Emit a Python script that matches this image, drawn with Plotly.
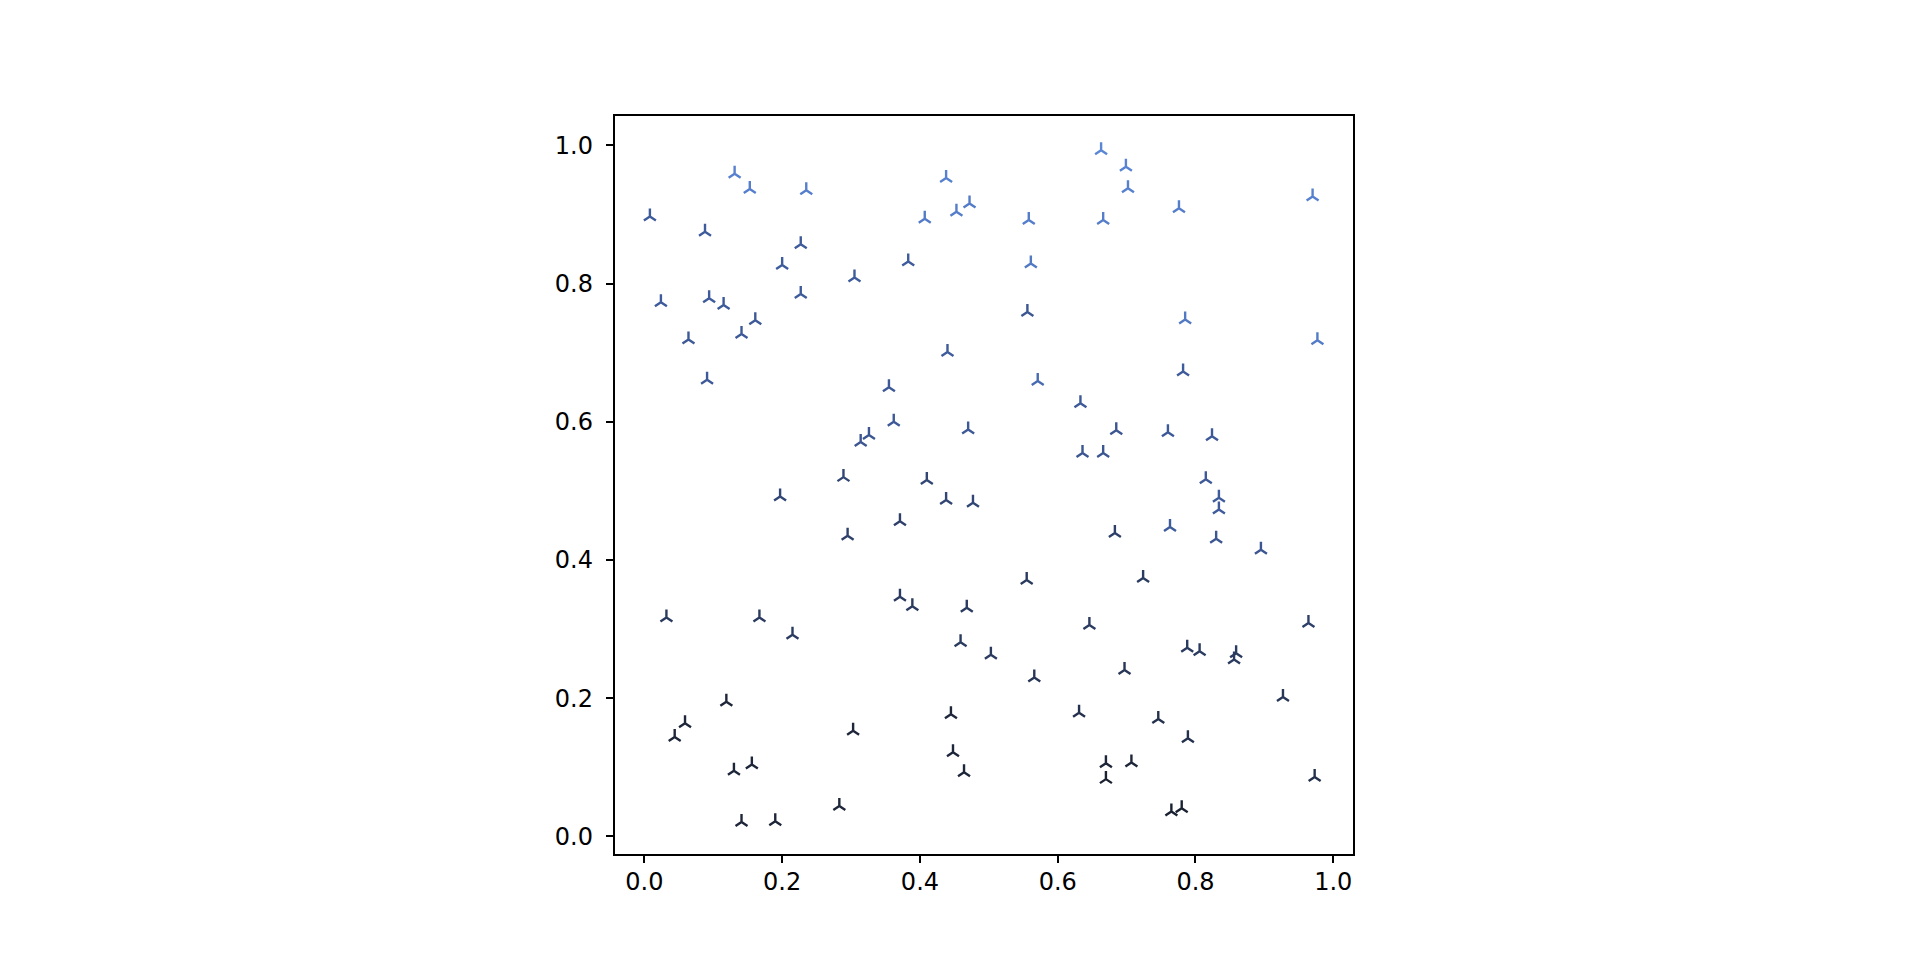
import plotly.graph_objects as go

# data values
x_vals = [
    0.131, 0.153, 0.235, 0.008, 0.088, 0.227, 0.200, 0.305, 0.383, 0.438,
    0.453, 0.472, 0.407, 0.024, 0.094, 0.115, 0.227, 0.064, 0.141, 0.161,
    0.091, 0.440, 0.355, 0.362, 0.314, 0.326, 0.470, 0.289, 0.410, 0.197,
    0.663, 0.699, 0.702, 0.558, 0.666, 0.776, 0.970, 0.561, 0.556, 0.785,
    0.977, 0.571, 0.782, 0.633, 0.685, 0.760, 0.824, 0.636, 0.666, 0.815,
    0.438, 0.477, 0.371, 0.295, 0.032, 0.167, 0.215, 0.371, 0.389, 0.468,
    0.459, 0.503, 0.119, 0.059, 0.044, 0.303, 0.445, 0.448, 0.464, 0.130,
    0.156, 0.283, 0.141, 0.190,
    0.834, 0.834, 0.763, 0.683, 0.830, 0.895, 0.555, 0.724, 0.646, 0.964,
    0.788, 0.806, 0.859, 0.856, 0.566, 0.697, 0.927, 0.631, 0.746, 0.789,
    0.670, 0.707, 0.670, 0.973, 0.765, 0.780,
]
y_vals = [
    0.959, 0.937, 0.935, 0.897, 0.875, 0.857, 0.827, 0.809, 0.832, 0.953,
    0.904, 0.916, 0.894, 0.773, 0.779, 0.769, 0.785, 0.719, 0.727, 0.747,
    0.661, 0.701, 0.650, 0.600, 0.571, 0.581, 0.589, 0.520, 0.516, 0.492,
    0.993, 0.969, 0.938, 0.892, 0.892, 0.909, 0.926, 0.829, 0.759, 0.748,
    0.718, 0.659, 0.673, 0.627, 0.588, 0.585, 0.579, 0.555, 0.555, 0.517,
    0.487, 0.483, 0.456, 0.435, 0.317, 0.317, 0.292, 0.347, 0.333, 0.331,
    0.281, 0.263, 0.195, 0.164, 0.144, 0.153, 0.177, 0.122, 0.093, 0.095,
    0.104, 0.044, 0.021, 0.022,
    0.490, 0.473, 0.448, 0.439, 0.431, 0.415, 0.371, 0.374, 0.306, 0.309,
    0.273, 0.268, 0.265, 0.256, 0.230, 0.241, 0.202, 0.179, 0.170, 0.142,
    0.106, 0.107, 0.083, 0.086, 0.036, 0.041,
]
c_vals = [
    0.95, 0.93, 0.93, 0.60, 0.60, 0.60, 0.60, 0.60, 0.60, 0.95,
    0.92, 0.90, 0.90, 0.60, 0.60, 0.58, 0.60, 0.58, 0.58, 0.58,
    0.58, 0.60, 0.58, 0.58, 0.55, 0.55, 0.58, 0.40, 0.40, 0.40,
    1.00, 0.97, 0.95, 0.92, 0.92, 0.92, 0.95, 0.88, 0.55, 0.88,
    0.90, 0.75, 0.60, 0.58, 0.55, 0.58, 0.58, 0.55, 0.55, 0.58,
    0.40, 0.40, 0.35, 0.35, 0.30, 0.30, 0.30, 0.30, 0.30, 0.30,
    0.30, 0.30, 0.10, 0.10, 0.10, 0.10, 0.10, 0.10, 0.10, 0.10,
    0.10, 0.10, 0.10, 0.10,
    0.60, 0.60, 0.60, 0.35, 0.55, 0.55, 0.30, 0.30, 0.30, 0.35,
    0.30, 0.30, 0.30, 0.30, 0.25, 0.25, 0.25, 0.20, 0.20, 0.20,
    0.10, 0.10, 0.05, 0.20, 0.05, 0.05,
]
tick_vals = [0.0, 0.2, 0.4, 0.6, 0.8, 1.0]

colorscale = [[0.0, "#171c27"], [0.3, "#2b3b60"], [0.6, "#3e5b9b"], [1.0, "#5a86d6"]]

fig = go.Figure(
    go.Scatter(
        x=x_vals, y=y_vals, mode="markers",
        marker=dict(
            symbol="y-up", size=10,
            line=dict(width=2.4, color=c_vals, colorscale=colorscale, cmin=0, cmax=1),
        ),
        hoverinfo="skip",
    )
)

axis_common = dict(
    showgrid=False, zeroline=False, showline=True, mirror=True,
    linecolor="black", linewidth=1.7,
    ticks="outside", ticklen=7.5, tickwidth=1.7, tickcolor="black",
    tickvals=tick_vals, tickformat=".1f",
    tickfont=dict(family="DejaVu Sans", size=24, color="black"),
)
# page body has an 8px margin; domains are shifted to compensate
fig.update_xaxes(range=[-0.0425, 1.0286], domain=[0.3162, 0.7005],
                 ticklabelstandoff=-2, **axis_common)
fig.update_yaxes(range=[-0.025, 1.042], domain=[0.1190, 0.8871],
                 ticklabelstandoff=8, **axis_common)

fig.update_layout(
    width=1920, height=960, autosize=False,
    margin=dict(l=0, r=0, t=0, b=0),
    paper_bgcolor="white", plot_bgcolor="white",
    showlegend=False,
)

fig.write_html("out.html")
